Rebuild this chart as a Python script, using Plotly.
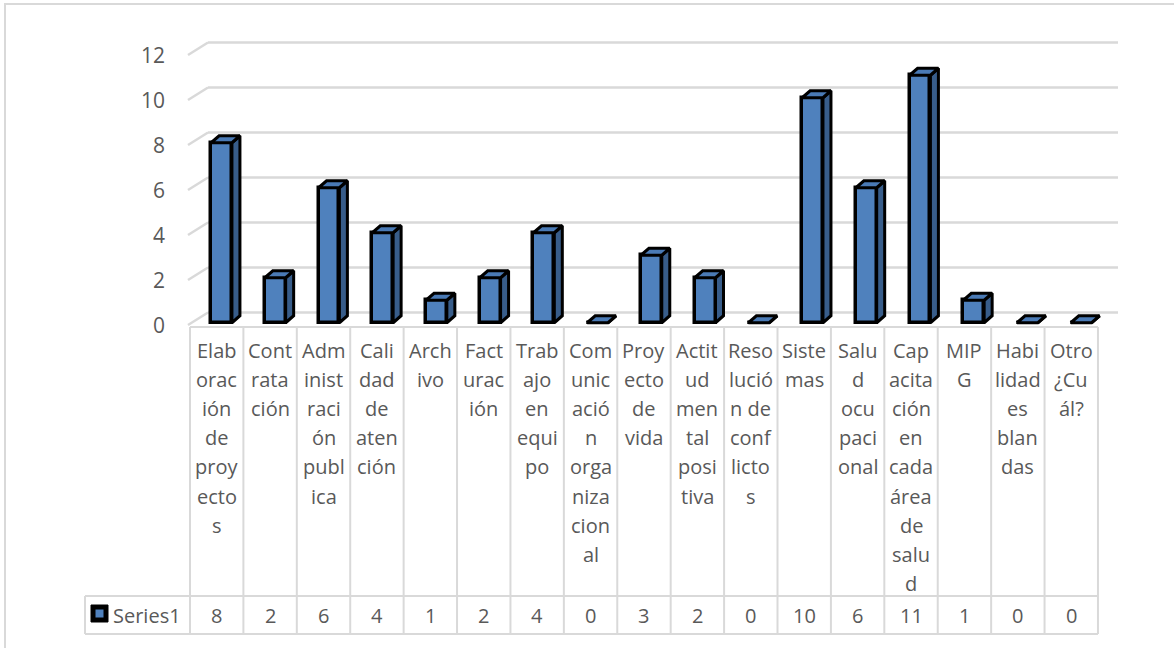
import plotly.graph_objects as go

# ---------------- data ----------------
categories = [
    "Elaboración de proyectos", "Contratación", "Administración publica",
    "Calidad de atención", "Archivo", "Facturación", "Trabajo en equipo",
    "Comunicación organizacional", "Proyecto de vida", "Actitud mental positiva",
    "Resolución de conflictos", "Sistemas", "Salud ocupacional",
    "Capacitación en cada área de salud", "MIPG", "Habilidades blandas", "Otro ¿Cuál?",
]
# category labels as wrapped in the data table
category_lines = [
    ["Elab", "orac", "ión", "de", "proy", "ecto", "s"],
    ["Cont", "rata", "ción"],
    ["Adm", "inist", "raci", "ón", "publ", "ica"],
    ["Cali", "dad", "de", "aten", "ción"],
    ["Arch", "ivo"],
    ["Fact", "urac", "ión"],
    ["Trab", "ajo", "en", "equi", "po"],
    ["Com", "unic", "ació", "n", "orga", "niza", "cion", "al"],
    ["Proy", "ecto", "de", "vida"],
    ["Actit", "ud", "men", "tal", "posi", "tiva"],
    ["Reso", "lució", "n de", "conf", "licto", "s"],
    ["Siste", "mas"],
    ["Salu", "d", "ocu", "paci", "onal"],
    ["Cap", "acita", "ción", "en", "cada", "área", "de", "salu", "d"],
    ["MIP", "G"],
    ["Habi", "lidad", "es", "blan", "das"],
    ["Otro", "¿Cu", "ál?"],
]
values = [8, 2, 6, 4, 1, 2, 4, 0, 3, 2, 0, 10, 6, 11, 1, 0, 0]
y_ticks = [0, 2, 4, 6, 8, 10, 12]
series_name = "Series1"

# ---------------- geometry / style ----------------
W, H = 1174, 648
X0_PX, CAT_PX = 190.0, 53.41   # left edge of plot / category pitch (px)
Y0_PX, UNIT_PX = 325.0, 22.5   # y pixel of value 0 / pixels per unit


def xd(px):
    return -0.5 + (px - X0_PX) / CAT_PX


def yd(py):
    return (Y0_PX - py) / UNIT_PX


n = len(values)
FONT = "Open Sans"
TXT = "#595959"
GRID = "#d9d9d9"
FRONT = "#4f81bd"
SIDE = "#385d8a"
TOP = "#4a7ab5"
EDGE = "black"

BAR_W = 0.39
BASE = 0.1
DX = 8 / CAT_PX
DY = 7 / UNIT_PX
WALL_DX = 18 / CAT_PX
WALL_DY = 12.5 / UNIT_PX

centers = [i + 0.09 + 0.006 * i for i in range(n)]

fig = go.Figure()

# front faces
fig.add_trace(go.Bar(
    x=centers, y=values, base=BASE, width=BAR_W,
    marker=dict(color=FRONT, line=dict(color=EDGE, width=3.5)),
    showlegend=False, hoverinfo="skip",
))

# side faces
sx, sy = [], []
for c, v in zip(centers, values):
    r = c + BAR_W / 2
    sx += [r, r + DX, r + DX, r, r, None]
    sy += [BASE, BASE + DY, BASE + v + DY, BASE + v, BASE, None]
fig.add_trace(go.Scatter(
    x=sx, y=sy, mode="lines", fill="toself", fillcolor=SIDE,
    line=dict(color=EDGE, width=3), showlegend=False, hoverinfo="skip",
))

# top faces
tx, ty = [], []
for c, v in zip(centers, values):
    l, r = c - BAR_W / 2, c + BAR_W / 2
    t = BASE + v
    tx += [l, l + DX, r + DX, r, l, None]
    ty += [t, t + DY, t + DY, t, t, None]
fig.add_trace(go.Scatter(
    x=tx, y=ty, mode="lines", fill="toself", fillcolor=TOP,
    line=dict(color=EDGE, width=3), showlegend=False, hoverinfo="skip",
))

shapes = []
annotations = []

# back wall gridlines with left wall diagonals
x_back_end = xd(1118)
for v in y_ticks:
    shapes.append(dict(type="line", xref="x", yref="y",
                       x0=xd(188), y0=v, x1=xd(188) + WALL_DX + 2 / CAT_PX, y1=v + WALL_DY,
                       line=dict(color=GRID, width=2.5), layer="below"))
    shapes.append(dict(type="line", xref="x", yref="y",
                       x0=xd(208), y0=v + WALL_DY, x1=x_back_end, y1=v + WALL_DY,
                       line=dict(color=GRID, width=2.5), layer="below"))
    annotations.append(dict(x=xd(167), y=v, xref="x", yref="y", text=str(v),
                            showarrow=False, xanchor="right", yanchor="middle",
                            font=dict(family=FONT, size=21, color=TXT)))

# data table grid
y_top, y_mid, y_bot = yd(327), yd(596), yd(634)
for k in range(n + 1):
    shapes.append(dict(type="line", xref="x", yref="y",
                       x0=k - 0.5, y0=y_top, x1=k - 0.5, y1=y_bot,
                       line=dict(color=GRID, width=2), layer="below"))
shapes.append(dict(type="line", xref="x", yref="y", x0=-0.5, y0=y_top, x1=n - 0.5, y1=y_top,
                   line=dict(color=GRID, width=2), layer="below"))
for yy in (y_mid, y_bot):
    shapes.append(dict(type="line", xref="x", yref="y", x0=xd(85), y0=yy, x1=n - 0.5, y1=yy,
                       line=dict(color=GRID, width=2), layer="below"))
shapes.append(dict(type="line", xref="x", yref="y", x0=xd(85), y0=y_mid, x1=xd(85), y1=y_bot,
                   line=dict(color=GRID, width=2), layer="below"))

# legend key
shapes.append(dict(type="rect", xref="x", yref="y", x0=xd(91), x1=xd(108), y0=yd(622), y1=yd(605),
                   fillcolor="black", line=dict(color="black", width=1)))
shapes.append(dict(type="rect", xref="x", yref="y", x0=xd(95.5), x1=xd(103.5), y0=yd(617.5), y1=yd(609.5),
                   fillcolor=FRONT, line=dict(width=0)))
annotations.append(dict(x=xd(111), y=yd(615), xref="x", yref="y", text=series_name,
                        showarrow=False, xanchor="left", yanchor="middle",
                        font=dict(family=FONT, size=20, color=TXT)))

# category label lines and values
LINE_PX = 29.2
for i, (lines, v) in enumerate(zip(category_lines, values)):
    for j, s in enumerate(lines):
        annotations.append(dict(x=i, y=yd(350 + j * LINE_PX), xref="x", yref="y", text=s,
                                showarrow=False, xanchor="center", yanchor="middle",
                                font=dict(family=FONT, size=20, color=TXT)))
    annotations.append(dict(x=i, y=yd(615), xref="x", yref="y", text=str(v),
                            showarrow=False, xanchor="center", yanchor="middle",
                            font=dict(family=FONT, size=20, color=TXT)))

# chart outer border
shapes.append(dict(type="rect", xref="paper", yref="paper",
                   x0=5 / W, x1=1.02, y0=-0.05, y1=1 - 4 / H,
                   line=dict(color=GRID, width=2), layer="below"))

fig.update_layout(
    width=W, height=H,
    margin=dict(l=0, r=0, t=0, b=0),
    paper_bgcolor="white", plot_bgcolor="white",
    xaxis=dict(range=[xd(0), xd(W)], visible=False, fixedrange=True),
    yaxis=dict(range=[yd(H), yd(0)], visible=False, fixedrange=True),
    shapes=shapes, annotations=annotations,
    showlegend=False, bargap=0,
)

fig.write_html("out.html", config={"displayModeBar": False},
               post_script="document.body.style.margin='0';document.body.style.overflow='hidden';")
